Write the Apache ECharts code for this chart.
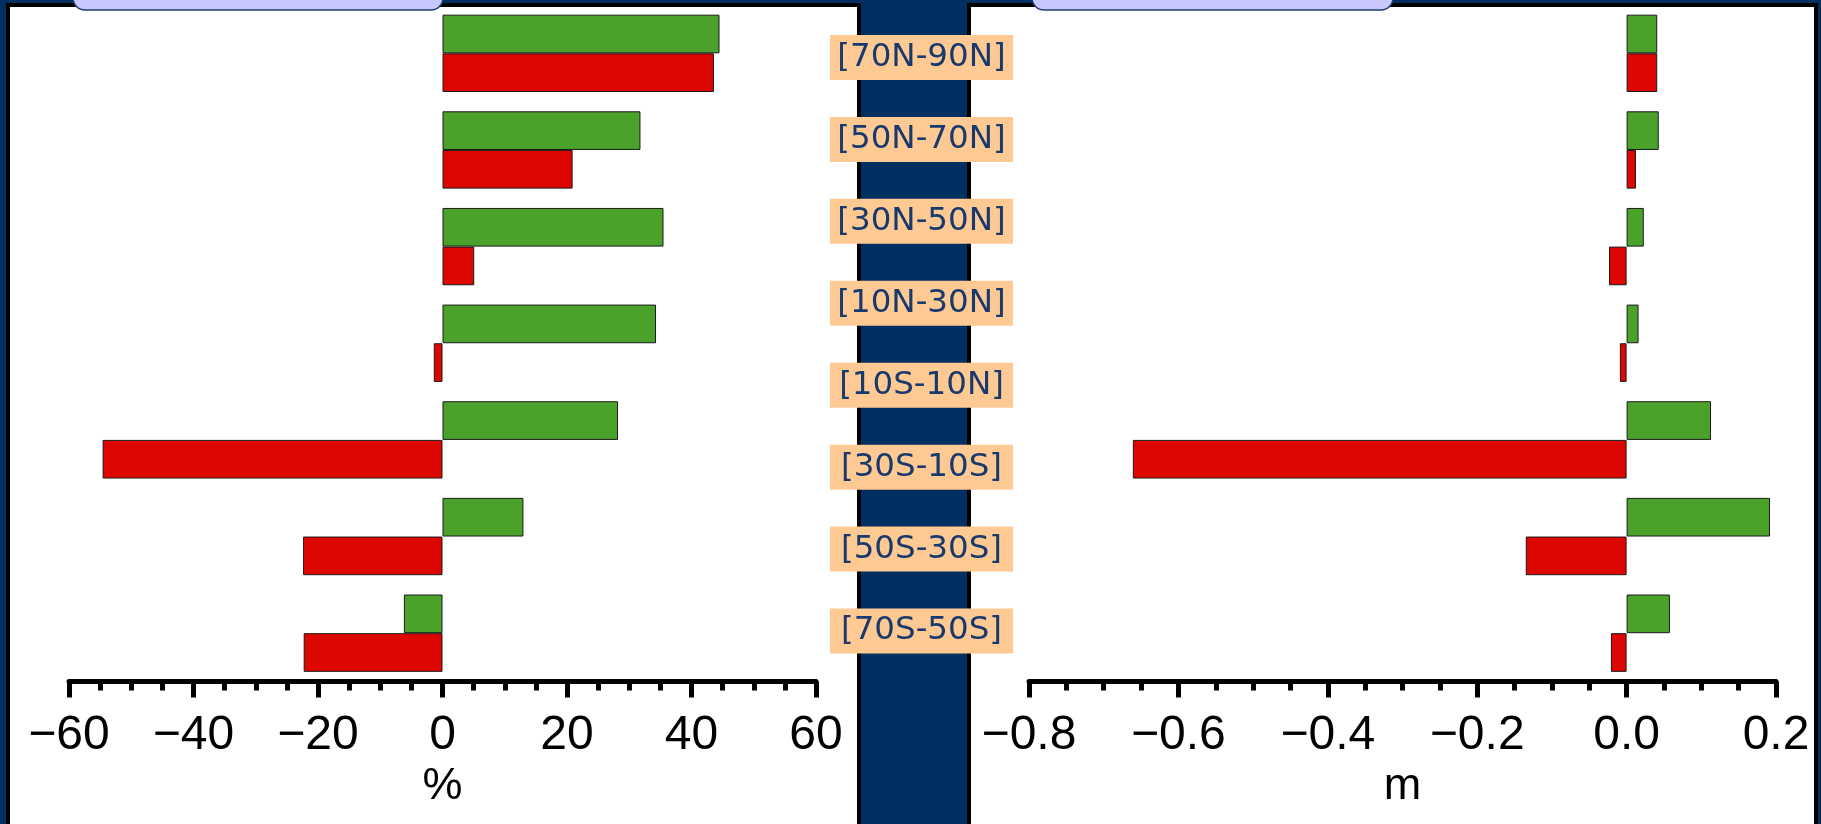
<!DOCTYPE html>
<html>
<head>
<meta charset="utf-8">
<script src="https://cdn.jsdelivr.net/npm/echarts@6/dist/echarts.min.js"></script>
<style>
  html, body { margin: 0; padding: 0; background: #002f62; }
  #chart { width: 1821px; height: 824px; }
</style>
</head>
<body>
<div id="chart"></div>
<script>
// ---- data ----
const regionLabels = ['[70N-90N]', '[50N-70N]', '[30N-50N]', '[10N-30N]', '[10S-10N]', '[30S-10S]', '[50S-30S]', '[70S-50S]'];
const barGroups = ['g1', 'g2', 'g3', 'g4', 'g5', 'g6', 'g7'];
const pctGreen = [44.5, 31.8, 35.5, 34.3, 28.2, 13.0, -6.2];
const pctRed   = [43.6, 20.9, 5.1, -1.4, -54.6, -22.4, -22.3];
const mGreen   = [0.041, 0.043, 0.023, 0.016, 0.113, 0.192, 0.058];
const mRed     = [0.041, 0.0125, -0.0235, -0.009, -0.661, -0.135, -0.021];
const pctAxisName = '%';
const mAxisName = 'm';

// ---- styles ----
const GREEN = '#4aa22a', RED = '#dd0600', NAVY = '#002f62';
const minusFmt = (d) => (v) => (v < 0 ? '\u2212' : '') + Math.abs(v).toFixed(d);

function valueAxis(gridIndex, min, max, interval, name, dec) {
  return {
    type: 'value', gridIndex, min, max, interval,
    name, nameLocation: 'middle', nameGap: 105,
    nameTextStyle: { fontFamily: 'Liberation Sans', fontSize: 45, color: '#000', verticalAlign: 'middle' },
    axisLine: { show: true, onZero: false, lineStyle: { color: '#000', width: 5 } },
    axisTick: { show: true, length: 16, lineStyle: { color: '#000', width: 5 } },
    minorTick: { show: true, splitNumber: 4, length: 9, lineStyle: { color: '#000', width: 5 } },
    splitLine: { show: false },
    axisLabel: {
      formatter: minusFmt(dec), fontFamily: 'Liberation Sans', fontSize: 48, color: '#000',
      margin: 54, verticalAlign: 'middle'
    }
  };
}
function catAxis(gridIndex) {
  return { type: 'category', gridIndex, data: barGroups, inverse: true, show: false };
}
const barStyle = (c) => ({ color: c, borderColor: '#1a1a1a', borderWidth: 1 });

const chart = echarts.init(document.getElementById('chart'), null, { renderer: 'canvas' });
chart.setOption({
  backgroundColor: NAVY,
  animation: false,
  graphic: [
    { type: 'rect', z: -10, shape: { x: 8, y: 5, width: 851, height: 900 }, style: { fill: '#fff', stroke: '#000', lineWidth: 4 } },
    { type: 'rect', z: -10, shape: { x: 969, y: 5, width: 847, height: 900 }, style: { fill: '#fff', stroke: '#000', lineWidth: 4 } },
    { type: 'rect', z: 5, shape: { x: 73, y: -40, width: 370, height: 50, r: 12 }, style: { fill: '#c8c8ff', stroke: '#1f3f73', lineWidth: 1.5 } },
    { type: 'rect', z: 5, shape: { x: 1032, y: -40, width: 361, height: 50, r: 12 }, style: { fill: '#c8c8ff', stroke: '#1f3f73', lineWidth: 1.5 } }
  ],
  grid: [
    { left: 69, width: 747, top: 5, bottom: 142.5 },
    { left: 1029, width: 747, top: 5, bottom: 142.5 },
    { left: 921.5, width: 10, top: 16.5, bottom: 152 }
  ],
  xAxis: [
    valueAxis(0, -60, 60, 20, pctAxisName, 0),
    valueAxis(1, -0.8, 0.2, 0.2, mAxisName, 1),
    { type: 'value', gridIndex: 2, show: false }
  ],
  yAxis: [
    catAxis(0),
    catAxis(1),
    {
      type: 'category', gridIndex: 2, data: regionLabels, inverse: true, z: 50,
      axisLine: { show: false }, axisTick: { show: false }, splitLine: { show: false },
      axisLabel: {
        margin: 0, align: 'center', verticalAlign: 'middle', width: 167,
        fontFamily: 'DejaVu Sans', fontSize: 32.5, lineHeight: 33, color: '#17396b',
        backgroundColor: '#ffc994', padding: [6, 8, 6, 8]
      }
    }
  ],
  series: [
    { type: 'bar', xAxisIndex: 0, yAxisIndex: 0, data: pctGreen, barGap: '0%', barCategoryGap: '20%', itemStyle: barStyle(GREEN) },
    { type: 'bar', xAxisIndex: 0, yAxisIndex: 0, data: pctRed, barGap: '0%', barCategoryGap: '20%', itemStyle: barStyle(RED) },
    { type: 'bar', xAxisIndex: 1, yAxisIndex: 1, data: mGreen, barGap: '0%', barCategoryGap: '20%', itemStyle: barStyle(GREEN) },
    { type: 'bar', xAxisIndex: 1, yAxisIndex: 1, data: mRed, barGap: '0%', barCategoryGap: '20%', itemStyle: barStyle(RED) }
  ]
});
</script>
</body>
</html>
